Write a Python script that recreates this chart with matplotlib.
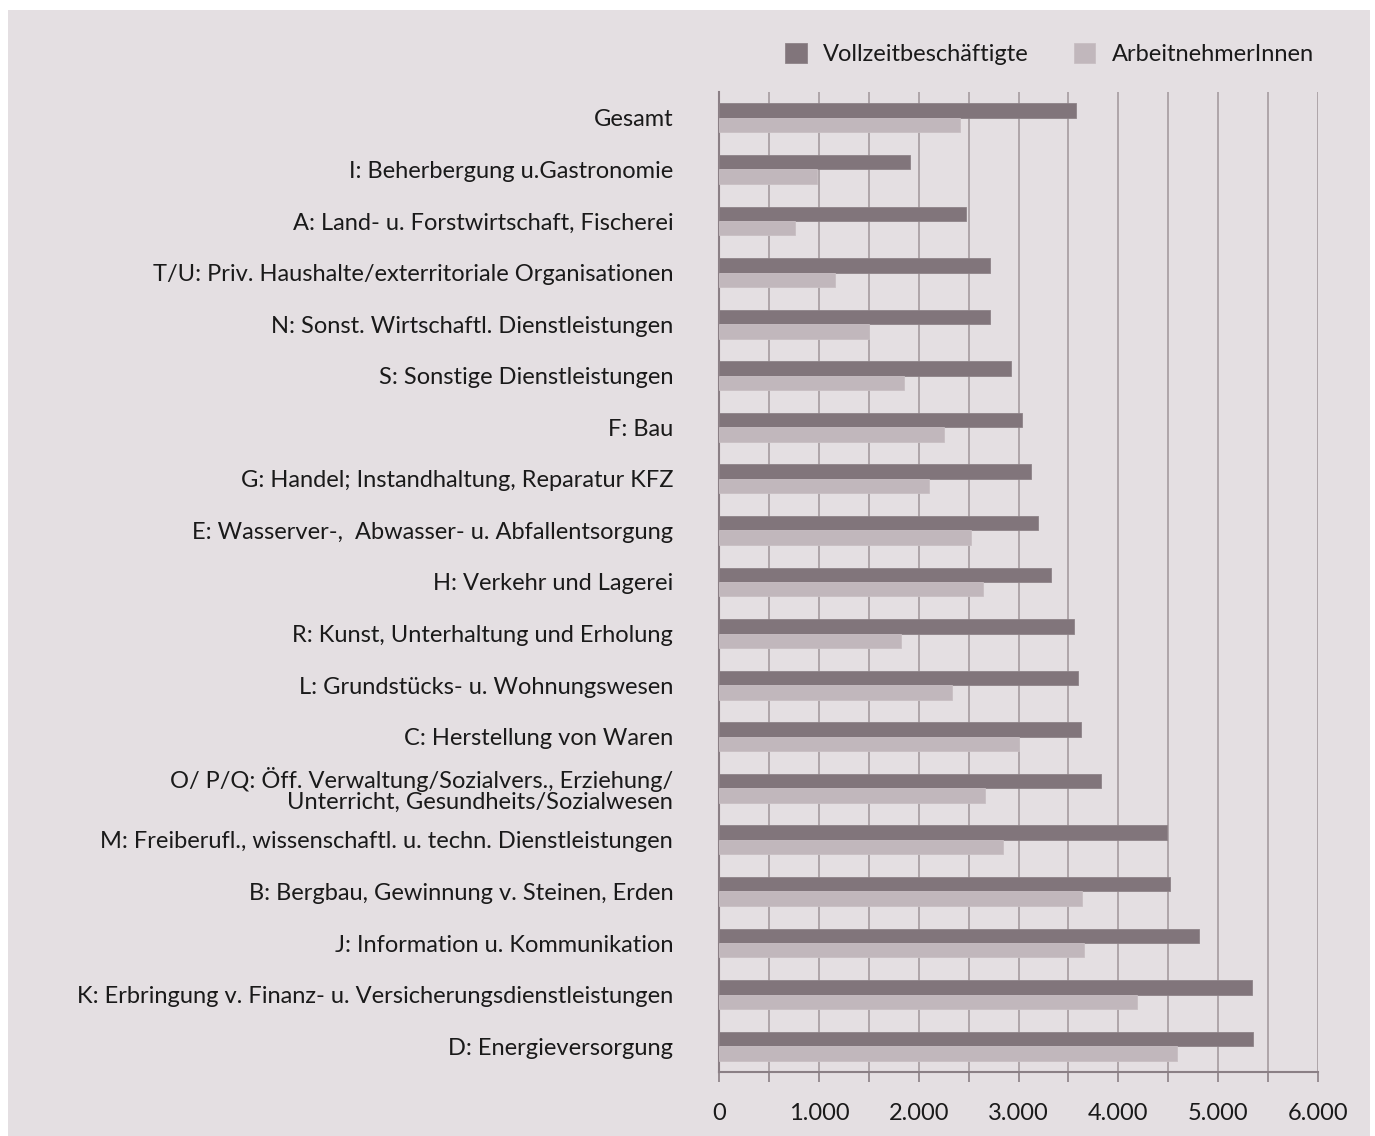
import numpy as np
import matplotlib.pyplot as plt
import matplotlib.patches as patches
from matplotlib.ticker import MultipleLocator, FuncFormatter

# --- Data ---

categories = [
    "Gesamt",
    "I: Beherbergung u.Gastronomie",
    "A: Land- u. Forstwirtschaft, Fischerei",
    "T/U: Priv. Haushalte/exterritoriale Organisationen",
    "N: Sonst. Wirtschaftl. Dienstleistungen",
    "S: Sonstige Dienstleistungen",
    "F: Bau",
    "G: Handel; Instandhaltung, Reparatur KFZ",
    "E: Wasserver-,  Abwasser- u. Abfallentsorgung",
    "H: Verkehr und Lagerei",
    "R: Kunst, Unterhaltung und Erholung",
    "L: Grundstücks- u. Wohnungswesen",
    "C: Herstellung von Waren",
    "O/ P/Q: Öff. Verwaltung/Sozialvers., Erziehung/\nUnterricht, Gesundheits/Sozialwesen",
    "M: Freiberufl., wissenschaftl. u. techn. Dienstleistungen",
    "B: Bergbau, Gewinnung v. Steinen, Erden",
    "J: Information u. Kommunikation",
    "K: Erbringung v. Finanz- u. Versicherungsdienstleistungen",
    "D: Energieversorgung",
]

vollzeit = [3576, 1913, 2474, 2714, 2714, 2925, 3035, 3125, 3195, 3326,
            3556, 3596, 3626, 3826, 4487, 4518, 4808, 5339, 5349]
arbeitnehmer = [2414, 982, 761, 1162, 1502, 1853, 2254, 2104, 2524, 2644,
                1823, 2334, 3005, 2664, 2845, 3636, 3656, 4187, 4588]

series_names = ["Vollzeitbeschäftigte", "ArbeitnehmerInnen"]

# --- Style ---

BG      = "#e4dfe2"
DARK    = "#81757b"
LIGHT   = "#c1b7bc"
GRID    = "#aaa0a5"
AXIS    = "#8a7f85"
TEXT    = "#1a1a1a"
FS      = 17

plt.rcParams["font.family"] = ["Lato", "DejaVu Sans"]

fig = plt.figure(figsize=(13.75, 11.36), dpi=100, facecolor="white")
fig.patches.append(patches.Rectangle(
    (8 / 1375, 0), (1370 - 8) / 1375, (1136 - 10) / 1136,
    transform=fig.transFigure, facecolor=BG, edgecolor="none", zorder=-10))

ax = fig.add_axes([719 / 1375, 64 / 1136, 599 / 1375, 980 / 1136])
ax.set_facecolor(BG)

y = np.arange(len(categories))
h = 0.28
ax.barh(y - h / 2, vollzeit, height=h, color=DARK, edgecolor="#8e8388",
        linewidth=0.6, zorder=3, label=series_names[0])
ax.barh(y + h / 2, arbeitnehmer, height=h, color=LIGHT, edgecolor="#c8bfc3",
        linewidth=0.6, zorder=3, label=series_names[1])

ax.set_ylim(len(categories) - 0.5, -0.5)
ax.set_xlim(0, 6000)

ax.set_yticks(y)
ax.set_yticklabels(categories, fontsize=FS, color=TEXT, linespacing=1.0)
ax.tick_params(axis="y", length=0, pad=33)

ax.xaxis.set_major_locator(MultipleLocator(1000))
ax.xaxis.set_minor_locator(MultipleLocator(500))
ax.xaxis.set_major_formatter(FuncFormatter(lambda v, p: f"{v:,.0f}".replace(",", ".")))
ax.tick_params(axis="x", which="both", length=7, width=1.2, color=AXIS,
               labelsize=FS, labelcolor=TEXT, pad=15)

ax.grid(axis="x", which="both", color=GRID, linewidth=1.3, zorder=0)
ax.set_axisbelow(True)

for s in ["top", "right"]:
    ax.spines[s].set_visible(False)
ax.spines["left"].set_color(AXIS)
ax.spines["left"].set_linewidth(1.5)
ax.spines["bottom"].set_color(AXIS)
ax.spines["bottom"].set_linewidth(1.5)

leg = fig.legend(loc="upper right", bbox_to_anchor=(1335 / 1375, 1 - 22 / 1136),
                 ncol=2, frameon=False, fontsize=FS, handlelength=0.9,
                 handleheight=0.9, handletextpad=0.7, columnspacing=1.9)
for t in leg.get_texts():
    t.set_color(TEXT)

fig.savefig("out.png", dpi=100, facecolor="white")
